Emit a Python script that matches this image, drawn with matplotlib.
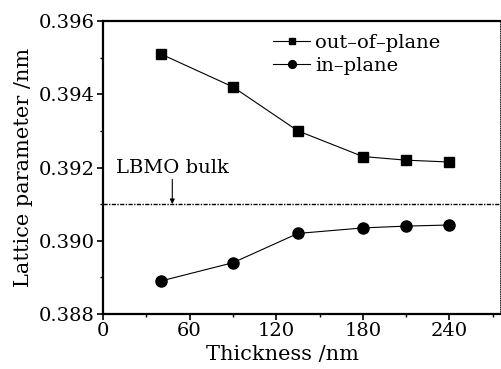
import matplotlib
matplotlib.use("Agg")
import matplotlib.pyplot as plt
from matplotlib.ticker import MultipleLocator

# Data
thickness = [40, 90, 135, 180, 210, 240]
out_of_plane = [0.3951, 0.3942, 0.3930, 0.3923, 0.3922, 0.39215]
in_plane = [0.3889, 0.3894, 0.3902, 0.39035, 0.3904, 0.39043]
bulk_value = 0.3910
bulk_arrow_x = 48

plt.rcParams['font.family'] = ['DejaVu Serif']

fig = plt.figure(figsize=(5.01, 3.69), dpi=100)
ax = fig.add_axes([103 / 501, 1 - 314 / 369, 397 / 501, 293 / 369])

ax.plot(thickness, out_of_plane, '-s', color='black', lw=0.8, ms=7,
        label='out\u2013of\u2013plane')
ax.plot(thickness, in_plane, '-o', color='black', lw=0.8, ms=8,
        label='in\u2013plane')

ax.axhline(bulk_value, color='black', lw=1.0, ls='-.', dashes=(3, 1, 1, 1))
ax.annotate('LBMO bulk', xy=(bulk_arrow_x, bulk_value),
            xytext=(bulk_arrow_x, 0.39175), ha='center', va='bottom',
            fontsize=14,
            arrowprops=dict(arrowstyle='-|>', color='black', lw=0.8,
                            mutation_scale=7, shrinkA=0, shrinkB=0))

ax.set_xlim(0, 275)
ax.set_ylim(0.388, 0.396)
ax.xaxis.set_major_locator(MultipleLocator(60))
ax.xaxis.set_minor_locator(MultipleLocator(30))
ax.yaxis.set_major_locator(MultipleLocator(0.002))
ax.yaxis.set_minor_locator(MultipleLocator(0.001))
ax.yaxis.set_major_formatter(plt.FormatStrFormatter('%.3f'))

ax.tick_params(axis='both', which='major', direction='out', length=4,
               width=1.2, labelsize=14, pad=2)
ax.tick_params(axis='both', which='minor', direction='out', length=2.5,
               width=1.0)

ax.spines['left'].set_linewidth(1.6)
ax.spines['bottom'].set_linewidth(1.6)
ax.spines['top'].set_linewidth(1.6)
ax.spines['right'].set_linewidth(0.6)
ax.spines['right'].set_linestyle(':')

ax.set_xlabel('Thickness /nm', fontsize=15)
ax.xaxis.set_label_coords((282 - 103) / 397, -0.105)
ax.xaxis.label.set_va('top')
ax.set_ylabel('Lattice parameter /nm', fontsize=15, labelpad=4)

leg = ax.legend(loc='upper left', bbox_to_anchor=(0.40, 0.995), frameon=False,
                fontsize=14, handlelength=1.9, handletextpad=0.25,
                labelspacing=0.25, borderaxespad=0.2, markerscale=0.7)

plt.savefig('out.png', dpi=100)
plt.close()
